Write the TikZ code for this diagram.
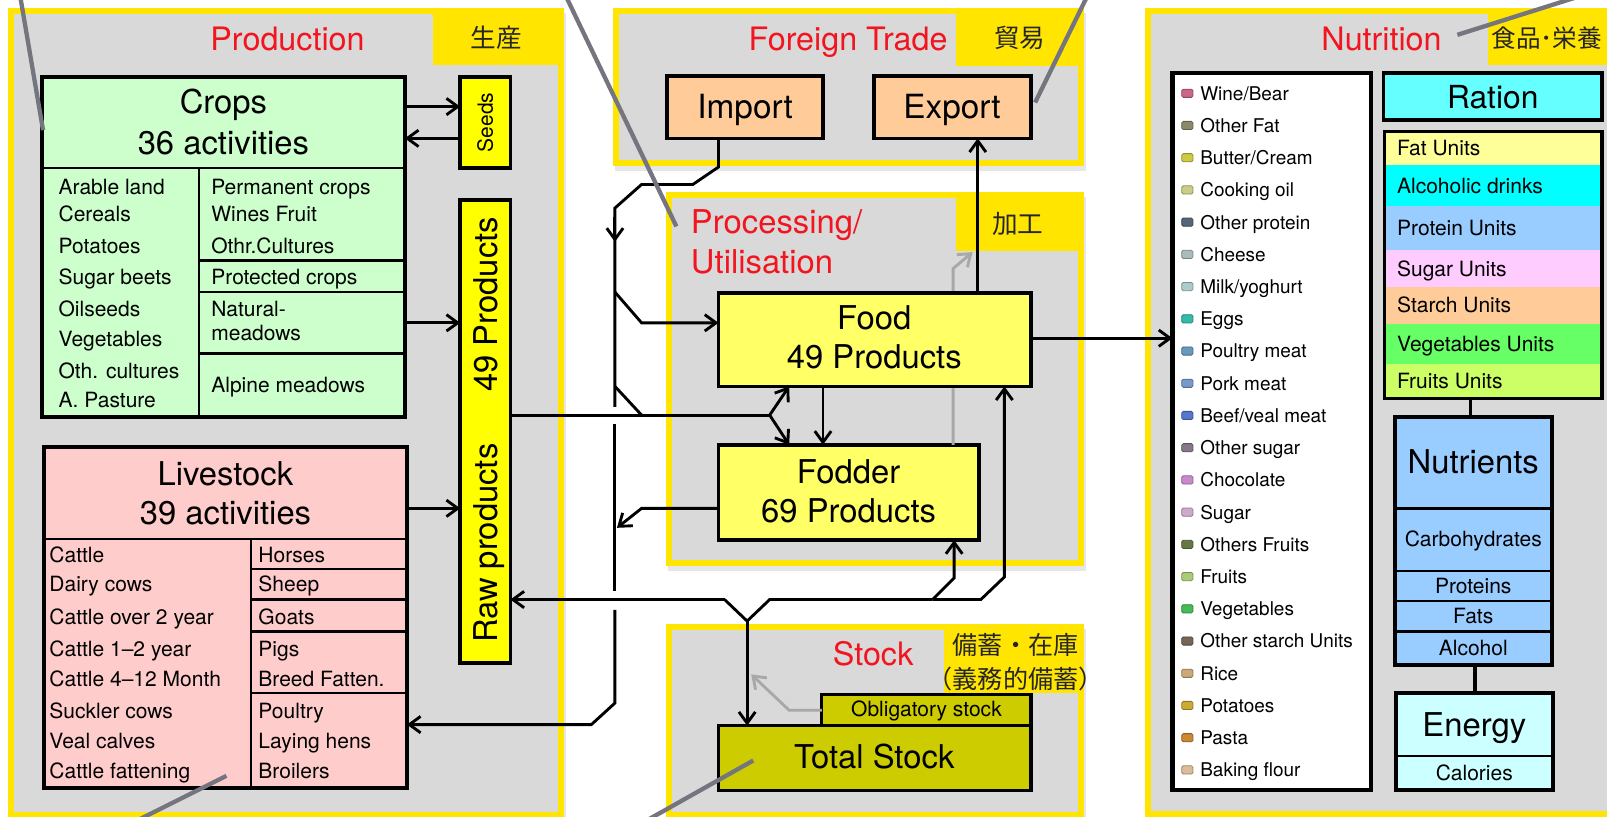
\documentclass[tikz,border=0pt]{standalone}
\usepackage{fontspec}
\setmainfont{TeX Gyre Heros}
\newfontfamily\jp{Noto Sans CJK JP}
\usetikzlibrary{arrows.meta}
\newcommand\fs[1]{\fontsize{#1}{#1}\selectfont}
\definecolor{pyel}{HTML}{FFE500}
\definecolor{pgray}{HTML}{D9D9D9}
\definecolor{pshadow}{HTML}{E6E6E6}
\definecolor{tred}{HTML}{F2141E}
\definecolor{callout}{HTML}{75757F}
\definecolor{cropc}{HTML}{CCFFCC}
\definecolor{livec}{HTML}{FFCCCC}
\definecolor{barc}{HTML}{FFFF00}
\definecolor{foodc}{HTML}{FFFF66}
\definecolor{tradec}{HTML}{FFCC99}
\definecolor{stockc}{HTML}{CCCC00}
\definecolor{rationc}{HTML}{66FFFF}
\definecolor{nutrc}{HTML}{99CCFF}
\definecolor{energyc}{HTML}{CCFFFF}
\definecolor{garrc}{HTML}{A8A8A8}
\definecolor{m1}{HTML}{CC6688}\definecolor{m2}{HTML}{8A8A6A}\definecolor{m3}{HTML}{CCCC44}
\definecolor{m4}{HTML}{CCCC88}\definecolor{m5}{HTML}{556677}\definecolor{m6}{HTML}{AABBBB}
\definecolor{m7}{HTML}{AACCCC}\definecolor{m8}{HTML}{33BBAA}\definecolor{m9}{HTML}{6699BB}
\definecolor{m10}{HTML}{7799CC}\definecolor{m11}{HTML}{5577CC}\definecolor{m12}{HTML}{887788}
\definecolor{m13}{HTML}{CC88CC}\definecolor{m14}{HTML}{CCAACC}\definecolor{m15}{HTML}{667744}
\definecolor{m16}{HTML}{AACC77}\definecolor{m17}{HTML}{44BB55}\definecolor{m18}{HTML}{776655}
\definecolor{m19}{HTML}{CCAA77}\definecolor{m20}{HTML}{CCAA33}\definecolor{m21}{HTML}{CC8833}
\definecolor{m22}{HTML}{DDBB99}
\newcommand\rbox[6]{\node[#6, anchor=north west, minimum width={(#4)-(#2)}, minimum height={(#5)-(#3)}] (#1) at (#2,#3) {};}
\newcommand\panel[6]{%
  \fill[pshadow] (#1+2,#2+5) rectangle (#3+2,#4+5);
  \fill[pyel] (#1,#2) rectangle (#3,#4);
  \fill[pgray] (#1+6,#2+6) rectangle (#3-6,#4-6);
  \fill[pyel] (#5,#2) rectangle (#3,#6);}
\begin{document}
\begin{tikzpicture}[x=1pt,y=-1pt,
  bx/.style={draw=black, line width=4pt, inner sep=0, outer sep=0},
  bxm/.style={draw=black, line width=3.4pt, inner sep=0, outer sep=0},
  dv/.style={draw=black, line width=2.4pt},
  con/.style={line width=2.8pt, black},
  arr/.style={con, -{Straight Barb[length=11pt,width=16pt]}},
  gcon/.style={line width=2.8pt, garrc},
  garr/.style={gcon, -{Straight Barb[length=11pt,width=16pt]}},
  co/.style={line width=4.2pt, callout},
  t205/.style={font=\fs{20.5}, inner sep=0, anchor=base west, yshift=-7.4pt},
  c205/.style={font=\fs{20.5}, inner sep=0, anchor=base, yshift=-7.4pt},
  t185/.style={font=\fs{18.5}, inner sep=0, anchor=base west, yshift=-6.7pt},
  c32/.style={font=\fs{32}, inner sep=0, anchor=base, yshift=-11.5pt},
  ttl/.style={font=\fs{31.5}, text=tred, inner sep=0, anchor=base, yshift=-11.3pt},
  ttlw/.style={font=\fs{32}, text=tred, inner sep=0, anchor=base west, yshift=-11.5pt},
  jpl/.style={font=\jp\fs{25}, text=black!85, inner sep=0, anchor=base, yshift=-9.5pt},
  jplw/.style={font=\jp\fs{24}, text=black!85, inner sep=0, anchor=base west, yshift=-9.2pt},
]
\useasboundingbox (0,0) rectangle (1568,797);
\fill[white] (0,0) rectangle (1568,797);

% ---------- panels ----------
\panel{8}{8}{550}{798}{422}{63}
\panel{598}{8}{1058}{162}{933}{64}
\panel{650}{187}{1058}{552}{933}{245}
\panel{650}{609}{1058}{798}{1058}{609}
\panel{1117}{8}{1580}{797}{1452}{63}

% titles
\node[ttl] (tprod) at (280.5,38) {Production};
\node[jpl] (jprod) at (484,37) {生産};
\node[ttl] (ttrade) at (827.5,38) {Foreign Trade};
\node[jpl] (jtrade) at (995,37) {貿易};
\node[ttlw] (tproc1) at (674,216) {Processing/};
\node[ttlw] (tproc2) at (674,255) {Utilisation};
\node[jpl] (jproc) at (993,218) {加工};
\node[ttl] (tstock) at (852,638) {Stock};
\fill[pyel] (921,613) rectangle (1057,676);
\node[jpl, font=\jp\fs{24.5}] (jstock1) at (991,629) {備蓄・在庫};
\node[jpl, font=\jp\fs{24.5}] (jstock2) at (991,662) {（義務的備蓄）};
\node[ttl] (tnutr) at (1348,38) {Nutrition};
\node[jplw] (jnutr) at (1455,37) {食品･栄養};

% ---------- production ----------
\rbox{crops}{41}{75}{395}{407}{bx, fill=cropc}
\draw[dv] (41,164) -- (395,164);
\draw[dv] (194,164) -- (194,407);
\draw[dv] (194,254) -- (395,254);
\draw[dv] (194,285) -- (395,285);
\draw[dv] (194,345) -- (395,345);
\draw[line width=4pt] (crops.north west) rectangle (crops.south east);
\node[c32] (crops1) at (218,99) {Crops};
\node[c32] (crops2) at (218,139) {36 activities};
\foreach \t/\yy [count=\i] in {Arable land/182, Cereals/209, Potatoes/240, Sugar beets/270, Oilseeds/301, Vegetables/331, Oth. cultures/362, A. Pasture/390}
  \node[t205] (cl\i) at (57,\yy) {\t};
\foreach \t/\yy [count=\i] in {Permanent crops/182, Wines Fruit/209, Othr.Cultures/240, Protected crops/270, Natural-/301, meadows/325, Alpine meadows/376}
  \node[t205] (cr\i) at (206,\yy) {\t};

\rbox{seeds}{449}{75}{498}{164}{bxm, fill=barc}
\node[font=\fs{20.5}, inner sep=0, anchor=base, rotate=90] (seedst) at (481,119.5) {Seeds};
\rbox{raw}{449}{195}{498}{647}{bxm, fill=barc}
\node[font=\fs{32}, inner sep=0, anchor=base, rotate=90] (rawt1) at (485,297) {49 Products};
\node[font=\fs{32}, inner sep=0, anchor=base, rotate=90] (rawt2) at (485,530) {Raw products};

\rbox{live}{43}{436}{397}{769}{bx, fill=livec}
\draw[dv] (43,526) -- (397,526);
\draw[dv] (245,526) -- (245,769);
\draw[dv] (245,555) -- (397,555);
\draw[dv] (245,585) -- (397,585);
\draw[dv] (245,616) -- (397,616);
\draw[dv] (245,676) -- (397,676);
\draw[line width=4pt] (live.north west) rectangle (live.south east);
\node[c32] (live1) at (220,462) {Livestock};
\node[c32] (live2) at (220,500) {39 activities};
\foreach \t/\yy [count=\i] in {Cattle/541, Dairy cows/570, Cattle over 2 year/602, Cattle 1--2 year/633, Cattle 4--12 Month/662, Suckler cows/694, Veal calves/723, Cattle fattening/752}
  \node[t205] (ll\i) at (48,\yy) {\t};
\foreach \t/\yy [count=\i] in {Horses/541, Sheep/570, Goats/602, Pigs/633, Breed Fatten./662, Poultry/694, Laying hens/723, Broilers/752}
  \node[t205] (lr\i) at (252,\yy) {\t};

% ---------- trade / processing / stock ----------
\rbox{imp}{651}{74}{803}{135}{bxm, fill=tradec}
\node[c32, font=\fs{32.5}] (impt) at (727,104) {Import};
\rbox{exp}{853}{74}{1006}{135}{bxm, fill=tradec}
\node[c32, font=\fs{32.5}] (expt) at (929,104) {Export};

\rbox{fodder}{701}{434}{955}{527}{bxm, fill=foodc}
\node[c32] (fod1) at (828,460) {Fodder};
\node[c32] (fod2) at (828,498) {69 Products};
\draw[garr] (fodder.north -| 930,0) -- (930,262) -- (949,246);
\rbox{food}{701}{286}{1006}{377}{bxm, fill=foodc}
\node[c32] (food1) at (853,310) {Food};
\node[c32] (food2) at (853,348) {49 Products};

\rbox{oblig}{802}{678}{1006}{708}{bxm, line width=3pt, fill=stockc}
\node[c205] (obt) at (904,692) {Obligatory stock};
\rbox{total}{701}{708}{1006}{771}{bxm, line width=3pt, fill=stockc}
\node[c32] (tott) at (853,738) {Total Stock};
\draw[garr] (oblig.west) -- (770,693) -- (733,658);

% ---------- nutrition ----------
\rbox{list}{1144}{71}{1338}{771}{bx, fill=white}
\foreach \t [count=\i] in {{Wine/Bear},{Other Fat},{Butter/Cream},{Cooking oil},{Other protein},{Cheese},{Milk/yoghurt},{Eggs},{Poultry meat},{Pork meat},{Beef/veal meat},{Other sugar},{Chocolate},{Sugar},{Others Fruits},{Fruits},{Vegetables},{Other starch Units},{Rice},{Potatoes},{Pasta},{Baking flour}}{
  \pgfmathsetmacro\yy{91+(\i-1)*31.44}
  \filldraw[fill=m\i, draw=m\i!70!black, line width=0.8pt, rounded corners=1.5pt] (1153,\yy-4) rectangle (1164,\yy+4);
  \node[t185] (li\i) at (1171,\yy) {\t};
}
\rbox{ration}{1350}{71}{1563}{117}{bxm, fill=rationc}
\node[c32, font=\fs{31}] (rat) at (1456.5,94) {Ration};
\foreach \t/\ya/\yb/\c [count=\i] in {Fat Units/128.5/161/FFFF99, Alcoholic drinks/161/201/00FFFF, Protein Units/201/244/99CCFF, Sugar Units/244/280/FFCCFF, Starch Units/280/316/FFCC99, Vegetables Units/316/355/66FF66, Fruits Units/355/388.7/CCFF66}{
  \definecolor{ucol}{HTML}{\c}
  \fill[ucol] (1351,\ya) rectangle (1563,\yb);
  \pgfmathsetmacro\ym{(\ya+\yb)/2}
  \node[t205] (u\i) at (1363,\ym) {\t};
}
\rbox{units}{1351}{128.5}{1563}{388.7}{bxm}
\rbox{nutr}{1361}{406.5}{1514}{648.8}{bx, fill=nutrc}
\draw[dv, line width=3pt] (1361,496) -- (1514,496);
\draw[dv] (1361,557) -- (1514,557);
\draw[dv] (1361,586.4) -- (1514,586.4);
\draw[dv] (1361,616.3) -- (1514,616.3);
\node[c32] (nut1) at (1437.5,450.5) {Nutrients};
\node[c205] (nut2) at (1437.5,526) {Carbohydrates};
\node[c205] (nut3) at (1437.5,571.5) {Proteins};
\node[c205] (nut4) at (1437.5,601) {Fats};
\node[c205] (nut5) at (1437.5,632.5) {Alcohol};
\rbox{energy}{1362}{676.5}{1515}{771}{bx, fill=energyc}
\draw[dv] (1362,737.6) -- (1515,737.6);
\node[c32] (en1) at (1438.5,707) {Energy};
\node[c205] (en2) at (1438.5,754) {Calories};
\draw[con, line width=3.4pt] (units.south -| 1435,0) -- (nutr.north -| 1435,0);
\draw[con, line width=3.4pt] (nutr.south -| 1439,0) -- (energy.north -| 1439,0);

% ---------- connectors ----------
\draw[arr] (crops.east |- 0,104) -- (seeds.west |- 0,104);
\draw[arr] (seeds.west |- 0,135) -- (crops.east |- 0,135);
\draw[arr] (crops.east |- 0,315) -- (raw.west |- 0,315);
\draw[arr] (live.east |- 0,496) -- (raw.west |- 0,496);

\draw[con] (imp.south -| 701,0) -- (701,163) -- (676,180) -- (626,180) -- (600,203) -- (600,397);
\draw[arr] (600,212) -- (600,236);
\draw[con] (600,414) -- (600,577);
\draw[arr] (600,595) -- (600,686) -- (577,707) -- (live.east |- 0,707);
\draw[arr] (600,285) -- (626,315) -- (food.west |- 0,315);
\draw[con] (600,377) -- (626,405);
\draw[con] (raw.east |- 0,405) -- (751,405);
\draw[arr] (751,405) -- (food.south -| 770,0);
\draw[arr] (751,405) -- (fodder.north -| 770,0);
\draw[arr] (food.south -| 803,0) -- (fodder.north -| 803,0);
\draw[arr] (food.north -| 954,0) -- (exp.south -| 954,0);
\draw[arr] (fodder.west |- 0,496) -- (626,496) -- (602,515);
\draw[arr] (food.east |- 0,330) -- (list.west |- 0,330);
\draw[arr] (707,585) -- (raw.east |- 0,585);
\draw[con] (707,585) -- (729,606) -- (751,585) -- (910,585);
\draw[arr] (910,585) -- (931,564) -- (fodder.south -| 931,0);
\draw[arr] (910,585) -- (957,585) -- (980,563) -- (food.south -| 980,0);
\draw[arr] (729,606) -- (total.north -| 729,0);

% ---------- callout lines ----------
\coordinate (c1a) at (20,-2);   \coordinate (c1b) at (42,127);
\coordinate (c2a) at (553,-2);  \coordinate (c2b) at (660,221);
\coordinate (c3a) at (1060,-2); \coordinate (c3b) at (1010,100);
\coordinate (c4a) at (1536,-2); \coordinate (c4b) at (1422,34);
\coordinate (c5a) at (135,800); \coordinate (c5b) at (221,757);
\coordinate (c6a) at (632,800); \coordinate (c6b) at (735,742);
\draw[co] (c1a) -- (c1b);
\draw[co] (c2a) -- (c2b);
\draw[co] (c3a) -- (c3b);
\draw[co] (c4a) -- (c4b);
\draw[co] (c5a) -- (c5b);
\draw[co] (c6a) -- (c6b);
\end{tikzpicture}
\end{document}
